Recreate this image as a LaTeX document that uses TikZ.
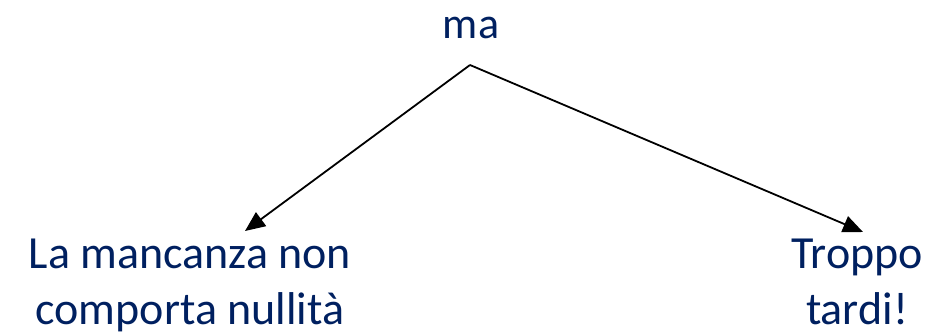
\documentclass[tikz,border=0pt]{standalone}
\usepackage{fontspec}
\setmainfont{Carlito}
\usetikzlibrary{arrows.meta}
\definecolor{navy}{HTML}{002060}
\tikzset{
  label text/.style={text=navy, font=\fontsize{46}{56}\selectfont, inner sep=0pt, align=center},
  branch/.style={line width=1.8pt, -{Triangle[length=20pt,width=17pt]}}
}
\begin{document}
\begin{tikzpicture}[x=1pt,y=-1pt]
  \useasboundingbox (0,0) rectangle (929,334);
  % heading and the two outcomes
  \node[label text, font=\fontsize{44}{54}\selectfont, anchor=base] (ma) at (471,39) {ma};
  \node[label text, anchor=base] (left) at (190,324) {La mancanza non\\comporta nullità};
  \node[label text, anchor=base] (right) at (857,324) {Troppo\\tardi!};
  % branching arrows
  \coordinate (apex) at (470,65);
  \coordinate (lefttip) at (245,231);
  \coordinate (righttip) at (863,232);
  \draw[branch] (apex) -- (lefttip);
  \draw[branch] (apex) -- (righttip);
\end{tikzpicture}
\end{document}
